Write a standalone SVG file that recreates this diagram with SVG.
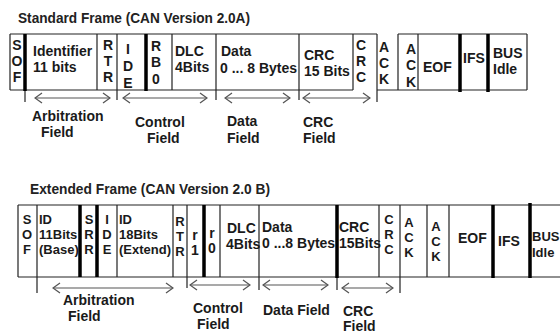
<svg xmlns="http://www.w3.org/2000/svg" width="560" height="335" viewBox="0 0 560 335">
<defs>
<marker id="ah" viewBox="-9 -6 10 12" markerWidth="10" markerHeight="12" refX="0" refY="0" orient="auto-start-reverse" markerUnits="userSpaceOnUse">
<path d="M-7,-5 L0,0 L-7,5" fill="none" stroke="#555" stroke-width="1.3"/>
</marker>
<style>
text{font-family:"Liberation Sans",Arial,sans-serif;font-weight:bold;font-size:14px;fill:#1a1a1a}
.t{font-size:14px;fill:#222}
.c{text-anchor:middle}
.s{font-size:13px}
.ln{stroke:#222;stroke-width:1.2;fill:none}
.tk{stroke:#000;stroke-width:3.5;fill:none}
.ar{stroke:#555;stroke-width:1.1;fill:none;marker-start:url(#ah);marker-end:url(#ah)}
</style>
</defs>
<rect width="560" height="335" fill="#fff"/>

<!-- ================= Standard frame ================= -->
<text id="title-std" class="t" x="18" y="23" textLength="232" lengthAdjust="spacingAndGlyphs">Standard Frame (CAN Version 2.0A)</text>

<g id="std-frame">
<path class="ln" d="M10,34 H377 M398,34 H527 M10,90 H353 M377,90 H527 M10,34 V90 M25,90 V102 M97,34 V90 M117,34 V100 M172,34 V90 M216,34 V100 M299,34 V100 M353,34 V90 M377,34 V102 M398,34 V90 M418,34 V90 M527,34 V90"/>
<path class="tk" d="M25,34 V91 M146,34 V91 M460,34 V92 M488,34 V92"/>
</g>

<g id="std-sof"><text class="c" x="17" y="50">S</text><text class="c" x="17" y="66">O</text><text class="c" x="17" y="82">F</text></g>
<g id="std-identifier"><text x="33" y="56">Identifier</text><text x="33" y="72">11 bits</text></g>
<g id="std-rtr"><text class="c" x="108" y="50">R</text><text class="c" x="108" y="66">T</text><text class="c" x="108" y="82">R</text></g>
<g id="std-ide"><text class="c" x="128" y="54">I</text><text class="c" x="128" y="71">D</text><text class="c" x="128" y="88">E</text></g>
<g id="std-rb0"><text class="c" x="156" y="51">R</text><text class="c" x="156" y="67">B</text><text class="c" x="156" y="84">0</text></g>
<g id="std-dlc"><text x="175" y="56">DLC</text><text x="175" y="72">4Bits</text></g>
<g id="std-data"><text x="221" y="56">Data</text><text x="220" y="73">0 ... 8 Bytes</text></g>
<g id="std-crc"><text x="304" y="60">CRC</text><text x="304" y="76">15 Bits</text></g>
<g id="std-crcdel"><text class="c" x="361" y="50">C</text><text class="c" x="361" y="66">R</text><text class="c" x="361" y="82">C</text></g>
<g id="std-ack"><text class="c" x="384" y="52">A</text><text class="c" x="384" y="68">C</text><text class="c" x="384" y="84">K</text></g>
<g id="std-ackdel"><text class="c" x="411" y="54">A</text><text class="c" x="411" y="70">C</text><text class="c" x="411" y="87">K</text></g>
<g id="std-eof"><text x="423" y="72">EOF</text></g>
<g id="std-ifs"><text x="463" y="63">IFS</text></g>
<g id="std-bus"><text x="493" y="58">BUS</text><text x="493" y="74">Idle</text></g>

<g id="std-connectors">
<line class="ar" x1="35" y1="98" x2="110" y2="98"/>
<line class="ar" x1="123" y1="98" x2="207" y2="98"/>
<line class="ar" x1="225" y1="98" x2="290" y2="98"/>
<line class="ar" x1="303" y1="98" x2="370" y2="98"/>
</g>

<g id="std-lbl-arb"><text x="32" y="121">Arbitration</text><text x="41" y="137">Field</text></g>
<g id="std-lbl-ctrl"><text x="135" y="127">Control</text><text x="147" y="143">Field</text></g>
<g id="std-lbl-data"><text x="227" y="126">Data</text><text x="227" y="143">Field</text></g>
<g id="std-lbl-crc"><text x="303" y="127">CRC</text><text x="303" y="143">Field</text></g>

<!-- ================= Extended frame ================= -->
<text id="title-ext" class="t" x="30" y="194" textLength="240" lengthAdjust="spacingAndGlyphs">Extended Frame (CAN Version 2.0 B)</text>

<g id="ext-frame">
<path class="ln" d="M18,205 H560 M18,277 H560 M18,205 V277 M37,205 V293 M117,205 V277 M173,205 V277 M187,205 V288 M220,205 V277 M259,205 V290 M337,277 V290 M379,205 V277 M400,205 V293 M427,205 V277 M449,205 V277"/>
<path class="tk" d="M80,205 V277 M97,205 V277 M204,205 V277 M337,205 V278 M493,205 V278 M530,203 V278"/>
</g>

<g id="ext-sof"><text class="c s" x="27" y="224">S</text><text class="c s" x="27" y="239">O</text><text class="c s" x="27" y="254">F</text></g>
<g id="ext-id11"><text class="s" x="39" y="224">ID</text><text class="s" x="39" y="239">11Bits</text><text class="s" x="39" y="254">(Base)</text></g>
<g id="ext-srr"><text class="c s" x="89" y="224">S</text><text class="c s" x="89" y="239">R</text><text class="c s" x="89" y="254">R</text></g>
<g id="ext-ide"><text class="c s" x="107" y="224">I</text><text class="c s" x="107" y="239">D</text><text class="c s" x="107" y="254">E</text></g>
<g id="ext-id18"><text class="s" x="119" y="224">ID</text><text class="s" x="119" y="239">18Bits</text><text class="s" x="119" y="254">(Extend)</text></g>
<g id="ext-rtr"><text class="c s" x="180" y="226">R</text><text class="c s" x="180" y="241">T</text><text class="c s" x="180" y="256">R</text></g>
<g id="ext-r1"><text class="c" x="195" y="240">r</text><text class="c" x="195" y="255">1</text></g>
<g id="ext-r0"><text class="c" x="212" y="238">r</text><text class="c" x="212" y="253">0</text></g>
<g id="ext-dlc"><text x="227" y="233">DLC</text><text x="226" y="249">4Bits</text></g>
<g id="ext-data"><text x="262" y="232">Data</text><text x="262" y="248">0 ...8 Bytes</text></g>
<g id="ext-crc"><text x="339" y="232">CRC</text><text x="339" y="248">15Bits</text></g>
<g id="ext-crcdel"><text class="c s" x="389" y="224">C</text><text class="c s" x="389" y="239">R</text><text class="c s" x="389" y="254">C</text></g>
<g id="ext-ack"><text class="c s" x="409" y="227">A</text><text class="c s" x="409" y="242">C</text><text class="c s" x="409" y="257">K</text></g>
<g id="ext-ackdel"><text class="c s" x="436" y="231">A</text><text class="c s" x="436" y="246">C</text><text class="c s" x="436" y="261">K</text></g>
<g id="ext-eof"><text x="458" y="243">EOF</text></g>
<g id="ext-ifs"><text x="498" y="246">IFS</text></g>
<g id="ext-bus"><text class="s" x="532" y="241">BUS</text><text class="s" x="532" y="257">Idle</text></g>

<g id="ext-connectors">
<line class="ar" x1="53" y1="288" x2="173" y2="288"/>
<line class="ar" x1="190" y1="285" x2="250" y2="285"/>
<line class="ar" x1="263" y1="285" x2="328" y2="285"/>
<line class="ar" x1="342" y1="288" x2="393" y2="288"/>
</g>

<g id="ext-lbl-arb"><text x="63" y="305">Arbitration</text><text x="68" y="321">Field</text></g>
<g id="ext-lbl-ctrl"><text x="193" y="313">Control</text><text x="197" y="329">Field</text></g>
<g id="ext-lbl-data"><text x="263" y="315">Data Field</text></g>
<g id="ext-lbl-crc"><text x="343" y="316">CRC</text><text x="343" y="331">Field</text></g>
</svg>
